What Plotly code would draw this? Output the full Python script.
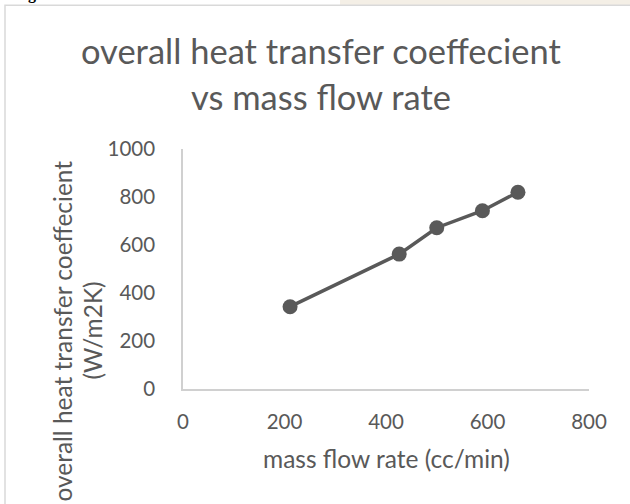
import plotly.graph_objects as go

# Data
flow_rate = [211, 426, 500, 590, 660]          # mass flow rate (cc/min)
u_value = [343, 562, 672, 743, 820]            # overall heat transfer coefficient (W/m2K)
x_ticks = [0, 200, 400, 600, 800]
y_ticks = [0, 200, 400, 600, 800, 1000]

W, H = 630, 504
L, R, T, B = 183, 41, 149, 114.5
PW, PH = W - L - R, H - T - B

def px(x):
    return (x - L) / PW

def py(y):
    return (H - B - y) / PH

FONT = "Lato"
TXT = "#595959"
AX = "#D0D0D0"

fig = go.Figure()
fig.add_trace(go.Scatter(
    x=flow_rate, y=u_value, mode="lines+markers",
    line=dict(color="#595959", width=3.5),
    marker=dict(color="#595959", size=15),
    showlegend=False, cliponaxis=False,
))

fig.update_layout(
    width=W, height=H,
    margin=dict(l=L, r=R, t=T, b=B),
    paper_bgcolor="white", plot_bgcolor="white",
    font=dict(family=FONT, color=TXT),
    xaxis=dict(range=[0, 800], tickvals=x_ticks, ticktext=[str(v) for v in x_ticks],
               showgrid=False, zeroline=False, showline=True, linecolor=AX, linewidth=1.5,
               ticks="", tickfont=dict(size=20.5, color=TXT, family=FONT), ticklabelstandoff=14),
    yaxis=dict(range=[0, 1000], tickvals=y_ticks, ticktext=[str(v) for v in y_ticks],
               showgrid=False, zeroline=False, showline=True, linecolor=AX, linewidth=1.5,
               ticks="", tickfont=dict(size=20.5, color=TXT, family=FONT), ticklabelstandoff=22),
)

ann = []
ann.append(dict(text="overall heat transfer coeffecient", x=px(321), y=py(50),
                font=dict(size=34.5, color=TXT, family=FONT)))
ann.append(dict(text="vs mass flow rate", x=px(321), y=py(96),
                font=dict(size=34.5, color=TXT, family=FONT)))
ann.append(dict(text="mass flow rate (cc/min)", x=px(386), y=py(459),
                font=dict(size=24.5, color=TXT, family=FONT)))
ann.append(dict(text="overall heat transfer coeffecient", x=px(63), y=py(331), textangle=-90,
                font=dict(size=24.5, color=TXT, family=FONT)))
ann.append(dict(text="(W/m2K)", x=px(93), y=py(331), textangle=-90,
                font=dict(size=24.5, color=TXT, family=FONT)))
for a in ann:
    a.update(xref="paper", yref="paper", showarrow=False, xanchor="center", yanchor="middle")
# cropped caption letter above the chart frame
ann.append(dict(text="<b>g</b>", x=px(32), y=py(-6), xref="paper", yref="paper", showarrow=False,
                xanchor="center", yanchor="middle", font=dict(size=16, color="black", family="Liberation Serif")))
fig.update_layout(annotations=ann)

shapes = [
    # faint document background strip above the frame
    dict(type="rect", xref="paper", yref="paper", x0=px(340), x1=px(640), y0=py(5), y1=py(-2),
         fillcolor="rgba(236,228,214,0.6)", line=dict(width=0), layer="below"),
    # chart frame
    dict(type="rect", xref="paper", yref="paper", x0=px(5), x1=px(700), y0=py(700), y1=py(5),
         fillcolor="rgba(0,0,0,0)", line=dict(color="#D9D9D9", width=1.5)),
]
fig.update_layout(shapes=shapes)

fig.write_html("out.html")
